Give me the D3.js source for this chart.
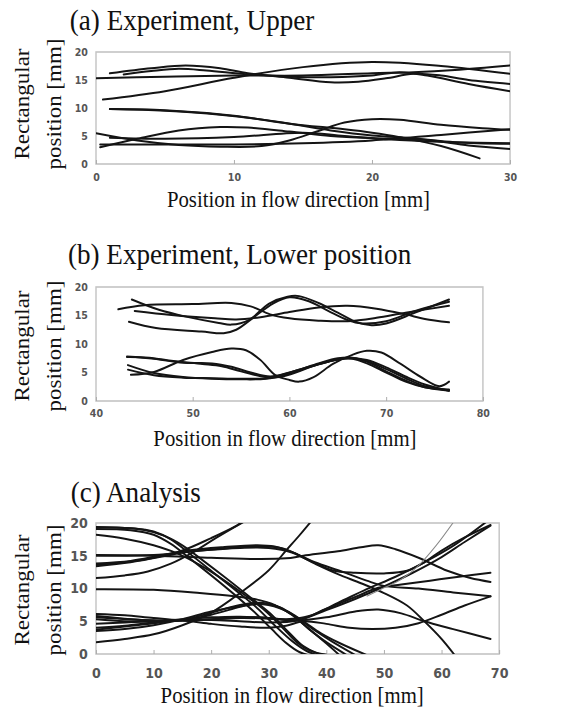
<!DOCTYPE html>
<html><head><meta charset="utf-8">
<script src="https://cdn.jsdelivr.net/npm/d3@7"></script>
<style>body{margin:0;background:#fff}svg{display:block}
.serif{font-family:"Liberation Serif","Times New Roman","DejaVu Serif",serif}
.tick text{font-family:"DejaVu Sans",sans-serif}
</style>
</head><body>
<svg id="chart" width="578" height="711"></svg>
<script>
// ---------- Tick labels ----------
const ticksAx = [0, 10, 20, 30];
const ticksBx = [40, 50, 60, 70, 80];
const ticksCx = [0, 10, 20, 30, 40, 50, 60, 70];
const ticksY = [0, 5, 10, 15, 20];

// ---------- Titles ----------
const titles = ["(a) Experiment, Upper", "(b) Experiment, Lower position", "(c) Analysis"];
const xTitle = "Position in flow direction [mm]";
const yTitle1 = "Rectangular";
const yTitle2 = "position [mm]";

// ---------- Panel (a) trajectories [x mm, y mm] ----------
const seriesA = [
  [[0.5,11.5],[5,13],[10,15.4],[15,17.3],[20,18.2],[25,17.5],[30,16.1]],
  [[0,15.3],[5,15.6],[10,15.8],[15,15.8],[20,16.2],[23,16.4],[26,16.8],[30,17.6]],
  [[1,16.2],[4,17.1],[6.5,17.6],[9,17.1],[11,16.2],[14,15.4],[17,14.6],[19,14.7],[21,15.3],[23,16.1],[25,15.8],[27,15.0],[30,14.3]],
  [[2,16],[4,16.6],[6,17],[8,16.7],[11,16],[14,15.6],[17,15.5],[20,15.8],[22,16.4],[24,15.8],[27,14.3],[30,13.0]],
  [[1,9.8],[5,9.5],[9,8.8],[13,7.6],[17,6.0],[20,5.1],[23,4.6],[26,3.9],[30,3.6]],
  [[1,9.8],[5,9.6],[10,8.6],[14,7.2],[18,6.2],[20,5.6],[22,4.8],[25,3.2],[27.8,1.0]],
  [[0,5.5],[3,4.2],[6,3.4],[9,3.1],[12,3.2],[14,4.2],[16,5.8],[18,7.4],[20,8.0],[22,7.9],[25,7.0],[28,6.4],[30,6.1]],
  [[0.3,3.0],[3,4.5],[6,6.0],[9,6.6],[11,6.5],[14,5.8],[17,5.0],[20,4.6],[24,4.3],[27,3.3],[30,2.7]],
  [[0.3,3.5],[5,3.5],[10,3.5],[15,3.7],[20,4.2],[25,5.2],[30,6.2]],
  [[1,4.7],[5,4.5],[10,4.8],[15,5.6],[18,5.0],[22,4.3],[26,3.9],[30,3.7]]
];

// ---------- Panel (b) trajectories ----------
const seriesB = [
  [[42.3,16.1],[45,16.8],[50,17.0],[54,17.2],[56,16.6],[58,15.2],[60,14.5],[63,14.1],[66,14.0],[69,14.6],[72,15.5],[76.5,16.7]],
  [[43.7,17.8],[46.5,16.0],[49.3,14.8],[52.7,13.7],[54,13.4],[55.8,14.2],[57.9,17.1],[59.8,18.3],[61,18.4],[63,17.2],[65,15.5],[67,13.8],[68.5,13.3],[70,13.6],[73,15.5],[76.5,17.8]],
  [[44,15.8],[47.8,15.1],[52.3,14.5],[54.5,14.3],[57,14.7],[60,15.6],[63,16.4],[66,16.7],[69,16.2],[72,15.2],[74,14.4],[76.5,13.8]],
  [[43.4,13.9],[46.2,12.8],[50.9,12.2],[53.2,11.9],[54.5,12.5],[56.4,14.8],[58.3,17.1],[60,18.2],[62,17.5],[64,15.8],[66,14.2],[67.5,13.6],[70,14.0],[73,15.8],[76.5,17.4]],
  [[43.2,7.7],[45.5,7.6],[48,7.0],[51,6.5],[53,6.1],[55,5.2],[57.5,4.2],[59,4.2],[61,5.2],[63,6.5],[65,7.3],[66.5,7.4],[68,6.6],[70,5.0],[72,3.4],[74,2.4],[76.5,1.8]],
  [[43.2,7.8],[46,7.4],[49,6.7],[52,6.6],[54,6.0],[56,5.0],[58,4.3],[60,5.0],[62,6.0],[64,6.9],[66,7.6],[68,7.0],[70,5.6],[72,4.0],[74,2.6],[76.5,1.9]],
  [[43.6,4.6],[46,5.1],[49,7.2],[52,8.6],[54,9.2],[55.5,8.9],[57,7.2],[58.5,4.6],[60,3.7],[61,3.4],[62.5,4.2],[64.5,6.5],[66.5,8.1],[68,8.8],[69.5,8.5],[71.5,6.5],[73.5,4.3],[75.5,2.6],[76.5,3.4]],
  [[43.3,6.3],[46,4.9],[49,4.2],[52,3.9],[55,3.8],[57.5,3.9],[59,4.5],[61,5.5],[63,6.6],[65,7.5],[66.5,7.6],[68,6.9],[70,5.2],[72,3.6],[74,2.4],[76.5,2.0]],
  [[43.3,5.5],[46,4.5],[49,4.1],[52,4.0],[55,3.9],[58,4.0],[60,4.8],[62,5.9],[64,6.9],[66,7.5],[68,7.2],[70,5.9],[72,4.3],[74,2.9],[76.5,1.8]]
];

// ---------- Panel (c) trajectories ----------
const seriesC = [
  [[0,19.4],[6,19.2],[10,18.7],[13,17.5],[16,15.5],[20,12.7],[24,9.9],[28,7.0],[31,4.4],[34,2.0],[36.5,0.5],[38.5,-0.2]],
  [[0,19.1],[6,18.9],[10,18.2],[13,16.8],[16,14.8],[20,12.0],[24,9.1],[27.5,6.4],[30.5,3.8],[33,1.7],[35.3,0.3],[37,-0.2]],
  [[0,18.2],[5,17.6],[10,16.6],[14,15.4],[18,13.6],[22,11.4],[26,8.9],[29.5,6.5],[32.5,3.9],[35,1.7],[37.5,0.4],[40,-0.1]],
  [[0,19.3],[8,19],[12,18],[15,16.6],[19,14],[23,11.3],[27,8.5],[30.5,6],[33.5,3.3],[36,1.2],[38.5,0.1],[40.5,-0.2]],
  [[0,13.6],[5,14],[10,14.7],[15,15.8],[20,17.7],[24,19.4],[26,20.5]],
  [[0,11.6],[5,12],[9,12.6],[13,13.8],[17,15.6],[21,17.8],[26.5,20.6]],
  [[0,13.4],[6,14],[11,14.8],[16,15.6],[22,16.1],[28,16.4],[32,16.2],[35,15.2],[38,14],[43,12.5],[47,11.2],[50,10.4],[56,10],[62,9.4],[68.5,8.8]],
  [[0,15.1],[10,15],[20,14.7],[28,14.5],[33,14.6],[36,15],[42,15.7],[46,16.3],[49,16.6],[52,16],[56,14.7],[61,12.7],[65,11.6],[68.5,11]],
  [[0,13.8],[6,14.2],[11,15],[16,15.8],[22,16.3],[28,16.6],[31,16.4],[34,15.6],[37,14.3],[41,12.8],[45,12.4],[50,12.3],[54,12.7],[57,14],[60,15.8],[64,17.8],[68.5,19.7]],
  [[0,15],[10,15.1],[18,15.8],[25,16.2],[30,16.2],[34,15.5],[38,13.8],[42,12.2],[46,10.8],[50,9.3],[54,7.4],[57,5],[60,2.3],[62.3,-0.2]],
  [[0,9.9],[10,9.8],[18,9.3],[24,8.8],[28,8.3],[31,7.5],[34,6],[37,3.8],[40,1.6],[42.3,-0.2]],
  [[0,1.8],[5,2.3],[10,3],[15,4.4],[20,6.3],[25,9.3],[30,12.8],[33,15.8],[35.5,18.3],[37.4,20.3]],
  [[0,6.1],[5,5.9],[10,5.5],[15,5.2],[20,6],[25,7.2],[28,7.8],[31,7.4],[34,6],[37,3.8],[40,1.8],[43.6,-0.2]],
  [[0,5.8],[5,5.4],[10,5.1],[15,5.2],[20,6.3],[25,7.5],[29,7.8],[32,7.1],[35,5.5],[38,3.6],[41,1.9],[45.1,-0.2]],
  [[0,3.5],[5,3.8],[10,4.4],[15,5.3],[20,6.5],[25,7.3],[29,7.6],[33,6.6],[36,5],[39,3.2],[42,1.8],[47.1,-0.2]],
  [[0,5.3],[5,5],[10,5],[15,5.1],[20,5.3],[25,5.5],[30,5.4],[35,5.1],[40,5.6],[45,6.5],[49,6.8],[53,6.2],[57,5],[62,3.8],[68.5,2.3]],
  [[0,4.6],[5,4.8],[10,5],[15,5.1],[20,4.6],[25,4.2],[30,4],[33,4.3],[36,5],[40,4.6],[44,4],[48,3.8],[52,4],[56,4.7],[60,6],[64,7.4],[68.5,8.8]],
  [[0,4.0],[5,4.3],[10,4.8],[15,5.2],[20,5.2],[25,5.0],[30,4.8],[35,5.1],[40,6.7],[45,8.4],[50,10.3],[55,12.4],[60,14.8],[64,17.1],[68.5,19.6]],
  [[0,3.7],[5,4.2],[10,4.7],[15,5.3],[20,5.6],[25,5.7],[30,5.5],[35,5.2],[40,6.9],[45,8.7],[49,10.1],[53,10.6],[58,11.2],[63,11.8],[68.5,12.4]],
  [[0,5.6],[8,5.2],[15,5.1],[22,5.4],[28,5.6],[33,5.3],[37,5.8],[42,7.8],[47,9.9],[52,11.8],[57,14],[62,16.5],[67.8,20.2]]
];
const seriesCgray = [[47,8.8],[50,10.1],[53,11.4],[56,13.5],[59,16.5],[62.2,20.3]];

// ---------- Drawing ----------
const svg = d3.select("#chart");
// the whole figure is slightly condensed horizontally
const root = svg.append("g").attr("transform", "translate(1.08,0) scale(0.904,1)");

const panels = [
  {id:"a", title:titles[0], tx:76, ty:30, xd:[0,30], xr:[105,563], yr:[164,52], ticks:ticksAx, series:seriesA, tickFont:10.5, tickY:181, xtX:329, xtY:207, ytY:104},
  {id:"b", title:titles[1], tx:74, ty:264, xd:[40,80], xr:[105,533], yr:[401,287], ticks:ticksBx, series:seriesB, tickFont:10.5, tickY:417, xtX:314, xtY:446, ytY:346},
  {id:"c", title:titles[2], tx:77, ty:502, xd:[0,70], xr:[105,551], yr:[654,523], ticks:ticksCx, series:seriesC, gray:seriesCgray, tickFont:14, tickY:678, xtX:322, xtY:703, ytY:590}
];

panels.forEach(p => {
  const x = d3.scaleLinear().domain(p.xd).range(p.xr);
  const y = d3.scaleLinear().domain([0,20]).range(p.yr);
  const g = root.append("g");

  g.append("text").attr("class","serif").attr("x", p.tx).attr("y", p.ty)
    .style("font-size", "30px").attr("fill", "#111").text(p.title);

  g.append("clipPath").attr("id", "clip-" + p.id).append("rect")
    .attr("x", p.xr[0]).attr("y", p.yr[1]).attr("width", p.xr[1]-p.xr[0]).attr("height", p.yr[0]-p.yr[1]);

  g.append("rect").attr("x", p.xr[0]).attr("y", p.yr[1])
    .attr("width", p.xr[1]-p.xr[0]).attr("height", p.yr[0]-p.yr[1])
    .attr("fill", "none").attr("stroke", "#c4c4c4").attr("stroke-width", 1.6);

  const xAxis = d3.axisBottom(x).tickValues(p.ticks).tickSizeInner(-4).tickSizeOuter(0).tickPadding(9);
  const xg = g.append("g").attr("transform", `translate(0,${p.yr[0]})`).call(xAxis);
  xg.attr("font-family", null);
  xg.select(".domain").remove();
  xg.selectAll(".tick line").attr("stroke", "#aaa");
  xg.selectAll(".tick text").style("font-weight", "bold").style("font-size", p.tickFont + "px").attr("fill", "#555")
    .attr("y", p.tickY - p.yr[0]).attr("dy", null);

  const yAxis = d3.axisLeft(y).tickValues(ticksY).tickSize(0).tickPadding(9);
  const yg = g.append("g").attr("transform", `translate(${p.xr[0]},0)`).call(yAxis);
  yg.attr("font-family", null);
  yg.select(".domain").remove();
  yg.selectAll(".tick text").style("font-weight", "bold").style("font-size", p.tickFont + "px").attr("fill", "#555");

  const line = d3.line().x(d => x(d[0])).y(d => y(d[1])).curve(d3.curveCatmullRom.alpha(0.5));
  const lg = g.append("g").attr("clip-path", `url(#clip-${p.id})`);
  lg.selectAll("path.traj").data(p.series).join("path").attr("class","traj")
    .attr("d", line).attr("fill", "none").attr("stroke", "#141414")
    .attr("stroke-width", 2).attr("stroke-linecap", "round");
  if (p.gray) {
    lg.append("path").datum(p.gray).attr("d", line).attr("fill","none")
      .attr("stroke","#888").attr("stroke-width",1.1);
  }

  g.append("text").attr("class","serif").attr("x", p.xtX).attr("y", p.xtY)
    .attr("text-anchor", "middle").style("font-size", "23px")
    .attr("fill", "#111").text(xTitle);

  g.append("text").attr("class","serif").attr("transform", `translate(31,${p.ytY}) rotate(-90)`)
    .attr("text-anchor", "middle").style("font-size", "23px")
    .attr("fill", "#111").text(yTitle1);
  g.append("text").attr("class","serif").attr("transform", `translate(66,${p.ytY}) rotate(-90)`)
    .attr("text-anchor", "middle").style("font-size", "23px")
    .attr("fill", "#111").text(yTitle2);
});
</script>
</body></html>
